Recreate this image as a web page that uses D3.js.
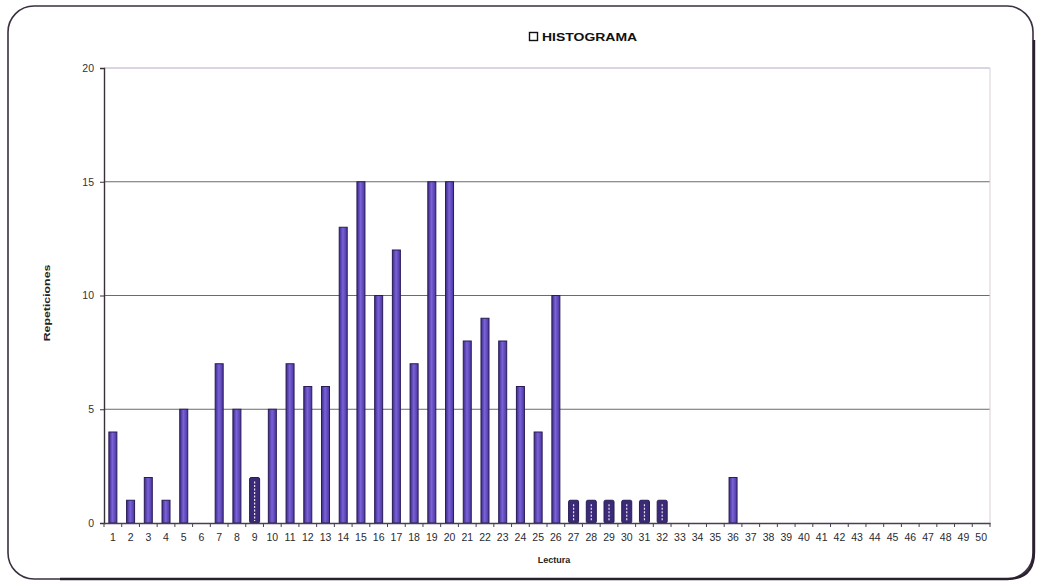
<!DOCTYPE html>
<html>
<head>
<meta charset="utf-8">
<script src="https://cdn.jsdelivr.net/npm/d3@7"></script>
<style>
  html, body { margin: 0; padding: 0; background: #fff; }
  svg { display: block; font-family: Arial, "Liberation Sans", sans-serif; }
</style>
</head>
<body>
<svg id="chart" width="1043" height="586"></svg>
<script>
// Readings (Lectura) and how often each one was repeated (Repeticiones)
const lecturas = d3.range(1, 51);
const repeticiones = [
  4, 1, 2, 1, 5, 0, 7, 5, 2, 5,
  7, 6, 6, 13, 15, 10, 12, 7, 15, 15,
  8, 9, 8, 6, 4, 10, 1, 1, 1, 1,
  1, 1, 0, 0, 0, 2, 0, 0, 0, 0,
  0, 0, 0, 0, 0, 0, 0, 0, 0, 0
];
const yTicks = [0, 5, 10, 15, 20];
const titulo = "HISTOGRAMA";
const ejeX = "Lectura";
const ejeY = "Repeticiones";

// readings whose bars print in the darker, solid tone
const barrasOscuras = [9, 27, 28, 29, 30, 31, 32];

const data = lecturas.map((l, i) => ({ l, v: repeticiones[i] }));

const svg = d3.select("#chart");
const m = { left: 104, right: 990, top: 68, bottom: 523 };

// rounded chart frame
svg.append("rect")
  .attr("x", 8).attr("y", 6).attr("width", 1025).attr("height", 573)
  .attr("rx", 26).attr("ry", 26)
  .attr("fill", "#fff").attr("stroke", "#3a3040").attr("stroke-width", 1.6);
svg.append("path")
  .attr("d", "M1034,40 L1034,552 Q1034,579 1007,579 L60,579")
  .attr("fill", "none").attr("stroke", "#2a2030").attr("stroke-width", 2.4);

const x = d3.scaleBand().domain(lecturas).range([m.left, m.right]).paddingInner(0).paddingOuter(0);
const y = d3.scaleLinear().domain([0, 20]).range([m.bottom, m.top]);

// gridlines
svg.append("g")
  .selectAll("line").data(yTicks.filter(t => t > 0)).join("line")
  .attr("x1", m.left).attr("x2", m.right)
  .attr("y1", d => y(d)).attr("y2", d => y(d))
  .attr("stroke", d => d === 20 ? "#b8a8c0" : "#6e6870").attr("stroke-width", 1);

// right edge of plot area
svg.append("line")
  .attr("x1", m.right).attr("x2", m.right).attr("y1", m.top).attr("y2", m.bottom)
  .attr("stroke", "#d8d0d8");

// bar shading
const defs = svg.append("defs");
const grad = defs.append("linearGradient").attr("id", "barGrad").attr("x1", "0").attr("x2", "1");
grad.append("stop").attr("offset", "0").attr("stop-color", "#3d2a86");
grad.append("stop").attr("offset", "0.45").attr("stop-color", "#7a62d8");
grad.append("stop").attr("offset", "1").attr("stop-color", "#4a35a0");

const bw = 8;
const bars = svg.append("g");
bars.selectAll("rect").data(data.filter(d => d.v > 0)).join("rect")
  .attr("x", d => x(d.l) + x.bandwidth() / 2 - (barrasOscuras.includes(d.l) ? 5 : bw / 2))
  .attr("y", d => y(d.v))
  .attr("width", d => barrasOscuras.includes(d.l) ? 10 : bw)
  .attr("height", d => y(0) - y(d.v))
  .attr("fill", d => barrasOscuras.includes(d.l) ? "#3b2a78" : "url(#barGrad)")
  .attr("stroke", "#2a1c55").attr("stroke-width", 1)
  .attr("rx", d => barrasOscuras.includes(d.l) ? 1.5 : 0);

// light dotted core on the dark bars
bars.selectAll("line.core").data(data.filter(d => barrasOscuras.includes(d.l) && d.v > 0)).join("line")
  .attr("class", "core")
  .attr("x1", d => x(d.l) + x.bandwidth() / 2).attr("x2", d => x(d.l) + x.bandwidth() / 2)
  .attr("y1", d => y(d.v) + 4).attr("y2", d => y(0) - 2)
  .attr("stroke", "#e8e4f4").attr("stroke-width", 1.2).attr("stroke-dasharray", "2,1.5");

// axes
const yAxis = d3.axisLeft(y).tickValues(yTicks).tickSize(4).tickPadding(6).tickFormat(d3.format("d"));
const gy = svg.append("g").attr("transform", `translate(${m.left},0)`).call(yAxis);
gy.select(".domain").attr("stroke", "#3a3038").attr("stroke-width", 1.4);
gy.selectAll(".tick line").attr("stroke", "#3a3038");
gy.selectAll(".tick text").attr("font-size", 10.5).attr("fill", "#333");

const xAxis = d3.axisBottom(x).tickSize(0).tickPadding(11);
const gx = svg.append("g").attr("transform", `translate(0,${m.bottom})`).call(xAxis);
gx.select(".domain").attr("stroke", "#4a3e50").attr("stroke-width", 1.4);
gx.selectAll(".tick text").attr("font-size", 10.5).attr("fill", "#2a2a30");

// tick marks on category boundaries
svg.append("g").selectAll("line").data(d3.range(0, lecturas.length + 1)).join("line")
  .attr("x1", i => m.left + i * x.step()).attr("x2", i => m.left + i * x.step())
  .attr("y1", m.bottom).attr("y2", m.bottom + 4)
  .attr("stroke", "#4a3e50");

// title with legend swatch (wide bold lettering)
svg.append("rect").attr("x", 529.5).attr("y", 32.5).attr("width", 8).attr("height", 8)
  .attr("fill", "#fff").attr("stroke", "#111").attr("stroke-width", 1.4);
svg.append("text").attr("transform", "translate(542,41) scale(1.27,1)")
  .attr("font-size", 11).attr("font-weight", "bold").attr("fill", "#111")
  .text(titulo);

// axis titles
svg.append("text").attr("x", 554).attr("y", 563)
  .attr("text-anchor", "middle").attr("font-size", 9).attr("font-weight", "bold").attr("fill", "#222")
  .text(ejeX);
svg.append("text").attr("transform", "translate(50,303) rotate(-90) scale(1.3,1)")
  .attr("text-anchor", "middle").attr("font-size", 9.5).attr("font-weight", "bold").attr("fill", "#222")
  .text(ejeY);
</script>
</body>
</html>
